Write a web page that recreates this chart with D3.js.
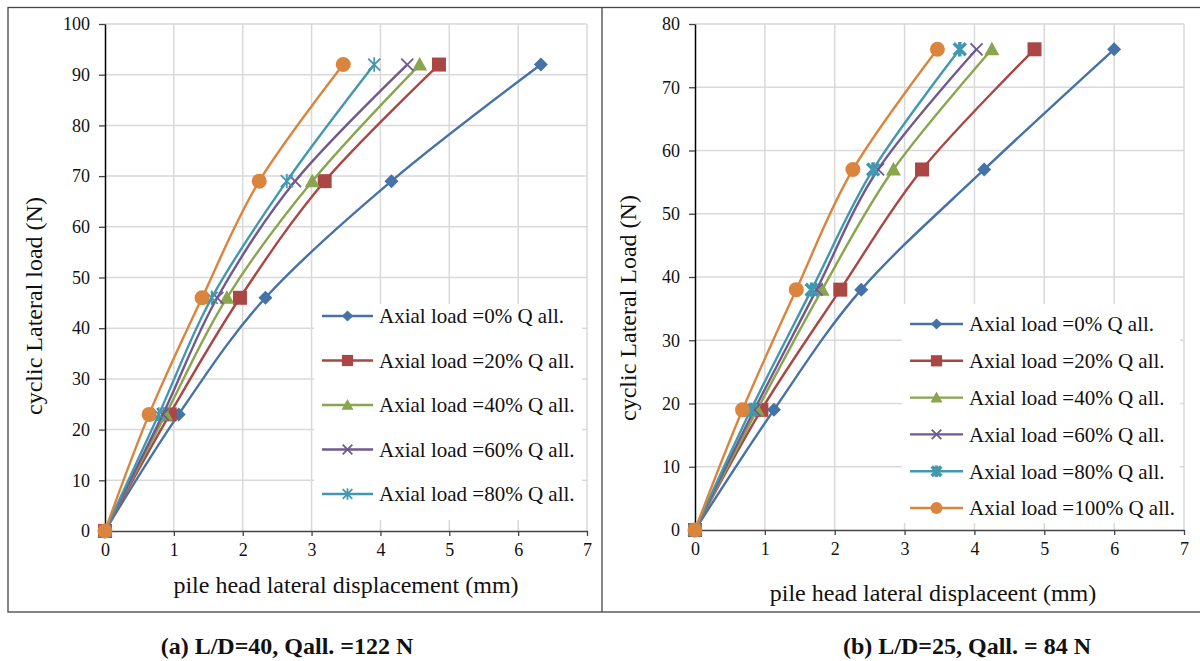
<!DOCTYPE html>
<html><head><meta charset="utf-8">
<script src="https://cdn.jsdelivr.net/npm/d3@7"></script>
<style>body{margin:0;background:#fff;} svg{display:block;} text{font-family:"Liberation Serif","Times New Roman",serif;}</style>
</head><body>
<svg id="c" width="1200" height="661"></svg>
<script>
// ---- data ----
const seriesNames = ["Axial load =0% Q all.","Axial load =20% Q all.","Axial load =40% Q all.","Axial load =60% Q all.","Axial load =80% Q all.","Axial load =100% Q all."];
const seriesColors = ["#4572A7","#AA4643","#89A54E","#71588F","#4198AF","#DB843D"];
const seriesMarkers = ["diamond","square","triangle","x","star","circle"];

const loadsA = [0, 23, 46, 69, 92];
const dispA_0   = [0, 1.07, 2.33, 4.16, 6.33];
const dispA_20  = [0, 0.94, 1.96, 3.19, 4.85];
const dispA_40  = [0, 0.88, 1.77, 3.01, 4.57];
const dispA_60  = [0, 0.84, 1.63, 2.76, 4.39];
const dispA_80  = [0, 0.78, 1.55, 2.64, 3.91];
const dispA_100 = [0, 0.64, 1.41, 2.24, 3.46];

const loadsB = [0, 19, 38, 57, 76];
const dispB_0   = [0, 1.13, 2.38, 4.14, 6.00];
const dispB_20  = [0, 0.95, 2.08, 3.25, 4.86];
const dispB_40  = [0, 0.89, 1.82, 2.84, 4.25];
const dispB_60  = [0, 0.85, 1.74, 2.62, 4.03];
const dispB_80  = [0, 0.80, 1.67, 2.55, 3.79];
const dispB_100 = [0, 0.68, 1.45, 2.26, 3.47];

const xTicks = [0,1,2,3,4,5,6,7];
const yTicksA = [0,10,20,30,40,50,60,70,80,90,100];
const yTicksB = [0,10,20,30,40,50,60,70,80];

const xTitleA = "pile head lateral displacement (mm)";
const yTitleA = "cyclic Lateral load (N)";
const xTitleB = "pile head lateral displaceent (mm)";
const yTitleB = "cyclic Lateral Load (N)";
const captionA = "(a) L/D=40, Qall. =122 N";
const captionB = "(b) L/D=25, Qall. = 84 N";

// ---- drawing ----
const FONT = '"Liberation Serif","Times New Roman",serif';
const svg = d3.select("#c");
svg.append("rect").attr("x",8).attr("y",7.5).attr("width",1200).attr("height",604.5)
  .attr("fill","none").attr("stroke","#444").attr("stroke-width",1.3);
svg.append("line").attr("x1",602).attr("x2",602).attr("y1",7.5).attr("y2",612)
  .attr("stroke","#444").attr("stroke-width",1.3);

function marker(g, type, x, y, color, s, bold) {
  s = s || 1;
  if (type === "diamond") {
    const r = 7*s;
    g.append("path").attr("d",`M${x},${y-r}L${x+r},${y}L${x},${y+r}L${x-r},${y}Z`).attr("fill",color);
  } else if (type === "square") {
    const h = 7*s;
    g.append("rect").attr("x",x-h).attr("y",y-h).attr("width",2*h).attr("height",2*h).attr("fill",color);
  } else if (type === "triangle") {
    const h = 7.5*s;
    g.append("path").attr("d",`M${x},${y-h}L${x+h},${y+h*0.8}L${x-h},${y+h*0.8}Z`).attr("fill",color);
  } else if (type === "x") {
    const h = 6*s;
    g.append("path").attr("d",`M${x-h},${y-h}L${x+h},${y+h}M${x-h},${y+h}L${x+h},${y-h}`)
      .attr("stroke",color).attr("stroke-width",1.8).attr("fill","none");
  } else if (type === "star") {
    const h = 6*s;
    g.append("path").attr("d",`M${x-h},${y-h}L${x+h},${y+h}M${x-h},${y+h}L${x+h},${y-h}M${x},${y-h*1.2}L${x},${y+h*1.2}`)
      .attr("stroke",color).attr("stroke-width",bold?3.5:1.8).attr("fill","none");
  } else if (type === "circle") {
    g.append("circle").attr("cx",x).attr("cy",y).attr("r",7.5*s).attr("fill",color);
  }
}

function chart(cfg) {
  const x = d3.scaleLinear().domain([0,7]).range([cfg.x0, cfg.x1]);
  const y = d3.scaleLinear().domain([0,cfg.ymax]).range([cfg.y0, cfg.y1]);
  const g = svg.append("g");
  // grid
  g.append("g").selectAll("line").data(cfg.yTicks.filter(d=>d>0)).join("line")
    .attr("x1",cfg.x0).attr("x2",cfg.x1).attr("y1",d=>y(d)).attr("y2",d=>y(d))
    .attr("stroke","#d9d9d9").attr("stroke-width",1.5);
  g.append("g").selectAll("line").data(xTicks.filter(d=>d>0)).join("line")
    .attr("x1",d=>x(d)).attr("x2",d=>x(d)).attr("y1",cfg.y0).attr("y2",cfg.y1)
    .attr("stroke","#d9d9d9").attr("stroke-width",1.5);
  // axes
  const ax = g.append("g").attr("transform",`translate(0,${cfg.y0})`)
    .call(d3.axisBottom(x).tickValues(xTicks).tickFormat(d3.format("d")).tickSize(5).tickSizeOuter(0).tickPadding(7));
  const ay = g.append("g").attr("transform",`translate(${cfg.x0},0)`)
    .call(d3.axisLeft(y).tickValues(cfg.yTicks).tickFormat(d3.format("d")).tickSize(6).tickSizeOuter(0).tickPadding(9));
  [ax,ay].forEach((a,k)=>{
    a.attr("font-family",FONT).attr("font-size",18);
    a.select(".domain").attr("stroke",k===0?"#444":"#000").attr("stroke-width",1.5);
    a.selectAll(".tick line").attr("stroke","#444").attr("stroke-width",1.3);
    a.selectAll(".tick text").attr("fill","#111");
  });
  // series
  const line = d3.line().x(d=>x(d[0])).y(d=>y(d[1])).curve(d3.curveCardinal.tension(0));
  cfg.disps.forEach((ds,i)=>{
    const pts = ds.map((v,j)=>[v, cfg.loads[j]]);
    g.append("path").attr("d",line(pts)).attr("fill","none")
      .attr("stroke",seriesColors[i]).attr("stroke-width",2.4);
    const mg = g.append("g");
    pts.forEach(p=>marker(mg, seriesMarkers[i], x(p[0]), y(p[1]), seriesColors[i], 1, cfg.boldStar));
  });
  // legend
  const L = cfg.legend;
  g.append("rect").attr("x",L.x).attr("y",L.y).attr("width",L.w).attr("height",L.h).attr("fill","#fff");
  for (let i=0;i<L.n;i++){
    const yy = L.fy + i*L.dy;
    g.append("line").attr("x1",L.lx0).attr("x2",L.lx1).attr("y1",yy).attr("y2",yy)
      .attr("stroke",seriesColors[i]).attr("stroke-width",2.4);
    marker(g, seriesMarkers[i], (L.lx0+L.lx1)/2, yy, seriesColors[i], 0.8, cfg.boldStar);
    g.append("text").attr("x",L.tx).attr("y",yy).attr("dy","0.35em").attr("font-size",L.fs)
      .attr("font-family",FONT).attr("fill","#111").text(seriesNames[i]);
  }
  // titles
  g.append("text").attr("x",cfg.xt[0]).attr("y",cfg.xt[1]).attr("text-anchor","middle")
    .attr("font-family",FONT).attr("font-size",24).attr("fill","#111").text(cfg.xTitle);
  g.append("text").attr("transform",`translate(${cfg.yt[0]},${cfg.yt[1]}) rotate(-90)`)
    .attr("font-family",FONT).attr("text-anchor","middle").attr("font-size",24).attr("fill","#111").text(cfg.yTitle);
  svg.append("text").attr("x",cfg.cap[0]).attr("y",cfg.cap[1]).attr("text-anchor","middle")
    .attr("font-family",FONT).attr("font-size",24).attr("font-weight","bold").attr("fill","#111").text(cfg.caption);
}

chart({x0:105, x1:587, y0:531, y1:24, ymax:100, yTicks:yTicksA, loads:loadsA,
  disps:[dispA_0,dispA_20,dispA_40,dispA_60,dispA_80,dispA_100], boldStar:false,
  legend:{x:314,y:304,w:268,h:216,n:5,fy:316,dy:44.5,lx0:322,lx1:373,tx:379,fs:21},
  xTitle:xTitleA, xt:[346,593], yTitle:yTitleA, yt:[42,306], caption:captionA, cap:[287,654]});

chart({x0:695, x1:1184, y0:530, y1:24, ymax:80, yTicks:yTicksB, loads:loadsB,
  disps:[dispB_0,dispB_20,dispB_40,dispB_60,dispB_80,dispB_100], boldStar:true,
  legend:{x:902,y:304,w:278,h:219,n:6,fy:324,dy:36.8,lx0:910,lx1:963,tx:969,fs:21},
  xTitle:xTitleB, xt:[933,601], yTitle:yTitleB, yt:[636,308], caption:captionB, cap:[967,654]});
</script>
</body></html>
